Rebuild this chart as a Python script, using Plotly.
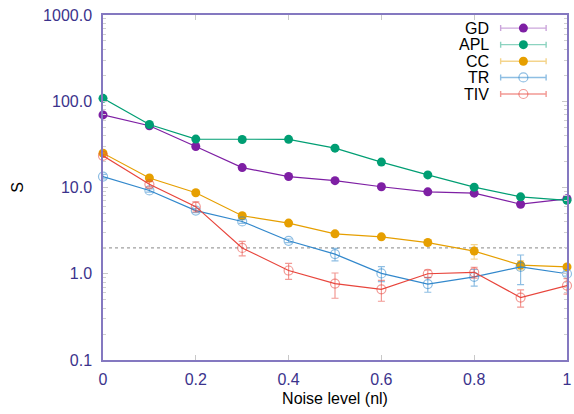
import plotly.graph_objects as go

noise = [0.0, 0.1, 0.2, 0.3, 0.4, 0.5, 0.6, 0.7, 0.8, 0.9, 1.0]

series_names = ["GD", "APL", "CC", "TR", "TIV"]
gd = [69.5, 52.0, 29.9, 17.0, 13.4, 12.0, 10.2, 8.9, 8.6, 6.4, 7.4]
apl = [108.0, 53.7, 36.4, 36.0, 36.2, 28.6, 19.7, 14.0, 10.1, 7.8, 7.1]
cc = [25.0, 12.9, 8.7, 4.7, 3.87, 2.9, 2.68, 2.3, 1.83, 1.26, 1.2]
tr = [13.4, 9.24, 5.4, 4.04, 2.41, 1.69, 1.01, 0.76, 0.92, 1.2, 1.0]
tiv = [23.3, 10.9, 6.0, 1.99, 1.09, 0.77, 0.66, 1.0, 1.04, 0.53, 0.73]

gd_err = [1.5, 1.2, 0.8, 0.5, 0.4, 0.35, 0.3, 0.3, 0.3, 0.35, 0.3]
apl_err = [2.5, 1.5, 1.0, 0.9, 0.9, 0.8, 0.6, 0.5, 0.4, 0.35, 0.3]
cc_err = [1.5, 0.6, 0.4, 0.25, 0.2, 0.15, 0.15, 0.15, 0.35, 0.15, 0.08]
tr_err = [0.8, 0.4, 0.3, 0.2, 0.12, 0.28, 0.2, 0.15, 0.2, 0.45, 0.06]
tiv_err = [1.0, 0.8, 0.8, 0.38, 0.23, 0.25, 0.18, 0.1, 0.15, 0.12, 0.15]

threshold = 2.0

y_tickvals = [0.1, 1, 10, 100, 1000]
y_ticktext = ["0.1", "1.0", "10.0", "100.0", "1000.0"]
x_tickvals = [0, 0.2, 0.4, 0.6, 0.8, 1.0]
x_ticktext = ["0", "0.2", "0.4", "0.6", "0.8", "1"]

colors = ["#7e1fa4", "#009e73", "#e69f00", "#3288cc", "#e8453c"]
light = ["rgba(126,31,164,0.4)", "rgba(0,158,115,0.45)", "rgba(230,159,0,0.45)",
         "rgba(50,136,204,0.55)", "rgba(232,69,60,0.55)"]
filled = [True, True, True, False, False]

values = [gd, apl, cc, tr, tiv]
errors = [gd_err, apl_err, cc_err, tr_err, tiv_err]

FONT = "Liberation Sans, Arial, sans-serif"
TICKCOL = "#3b338c"
FRAME = "#8478c0"

fig = go.Figure()

# threshold line
fig.add_trace(go.Scatter(x=[noise[0], noise[-1]], y=[threshold, threshold], mode="lines",
                         line=dict(color="#a0a0a0", width=1.2, dash="dot"),
                         showlegend=False, hoverinfo="skip"))

for name, y, e, c, lc, f in zip(series_names, values, errors, colors, light, filled):
    if f:
        marker = dict(symbol="circle", size=9, color=c)
    else:
        marker = dict(symbol="circle-open", size=9, color=lc, line=dict(width=1.2, color=lc))
    fig.add_trace(go.Scatter(
        x=noise, y=y, mode="lines+markers", name=name,
        line=dict(color=c, width=1.2),
        marker=marker,
        error_y=dict(type="data", array=e, visible=True, color=lc, thickness=1.2, width=3.5),
        cliponaxis=False, showlegend=False))

# custom legend (text left of key, gnuplot style)
leg_y = [0.962, 0.914, 0.866, 0.819, 0.771]
key_x = 0.906
key_half = 0.049
text_x = 0.836
for i, (name, c, lc, f) in enumerate(zip(series_names, colors, light, filled)):
    if f:
        marker = dict(symbol="circle", size=9, color=c)
    else:
        marker = dict(symbol="circle-open", size=9, color=lc, line=dict(width=1.2, color=lc))
    fig.add_trace(go.Scatter(
        x=[key_x], y=[leg_y[i]], mode="markers", xaxis="x2", yaxis="y2",
        marker=marker,
        error_x=dict(type="constant", value=key_half, color=lc, thickness=1.4, width=3),
        cliponaxis=False, showlegend=False, hoverinfo="skip"))
    fig.add_annotation(x=text_x, y=leg_y[i], xref="x2", yref="y2", text=name,
                       showarrow=False, xanchor="right", yanchor="middle",
                       font=dict(family=FONT, size=16, color="black"))

axis_common = dict(showline=True, linecolor=FRAME, linewidth=1.5, mirror="ticks",
                   ticks="inside", tickcolor="#c8c8c8", ticklen=5, tickwidth=1,
                   showgrid=False, zeroline=False, ticklabeloverflow="allow",
                   tickfont=dict(family=FONT, size=16, color=TICKCOL))

fig.update_layout(
    width=574, height=414,
    margin=dict(l=103, r=2, t=15, b=54),
    paper_bgcolor="white", plot_bgcolor="white",
    font=dict(family=FONT, size=16, color="black"),
    xaxis=dict(range=[0, 1], tickvals=x_tickvals, ticktext=x_ticktext,
               title=dict(text="Noise level (nl)", font=dict(family=FONT, size=16, color="black"), standoff=6),
               ticklabelstandoff=4, **axis_common),
    yaxis=dict(type="log", range=[-1, 3], tickvals=y_tickvals, ticktext=y_ticktext,
               title=dict(text="S", font=dict(family=FONT, size=16, color="black"), standoff=16),
               ticklabelstandoff=6,
               minor=dict(ticks="inside", ticklen=3, tickcolor="#d0d0d0", dtick="D1"),
               **axis_common),
    xaxis2=dict(overlaying="x", range=[0, 1], visible=False, anchor="y2"),
    yaxis2=dict(overlaying="y", range=[0, 1], visible=False, anchor="x2"),
    showlegend=False,
)

fig.write_html("out.html")
